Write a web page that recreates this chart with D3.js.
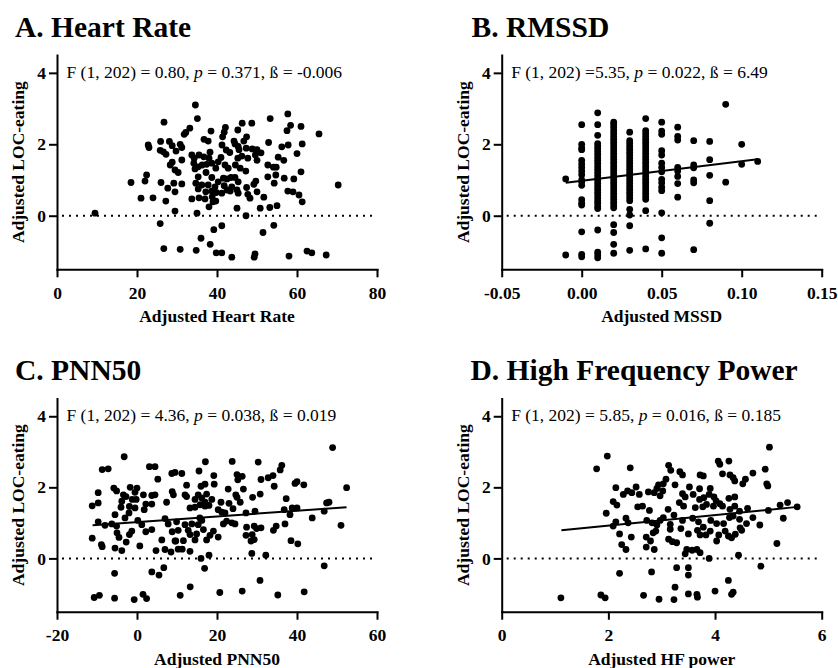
<!DOCTYPE html>
<html><head><meta charset="utf-8">
<script src="https://cdn.jsdelivr.net/npm/d3@7/dist/d3.min.js"></script>
<style>
body{margin:0;background:#fff}
svg{display:block}
text{font-family:"Liberation Serif","Times New Roman",Times,serif;fill:#000}
</style>
</head><body>
<svg id="chart" width="838" height="668"></svg>
<script>
// ---------------- DATA ----------------
const heartRatePoints = [[34.6,3.10],[57.7,2.85],[35.1,2.72],[53.3,2.72],[26.75,2.62],[48.7,2.59],[46.3,2.59],[58.4,2.53],[61,2.50],[42.1,2.47],[45.2,2.40],[33.2,2.45],[38.5,2.37],[57.5,2.38],[41.8,2.34],[32.2,2.33],[65.5,2.29],[31.8,2.28],[41.4,2.21],[47.4,2.21],[36.75,2.14],[37.8,2.09],[44.25,2.09],[46.7,2.09],[25.9,2.08],[28.1,2.08],[61.3,2.01],[22.8,1.98],[30.8,2.0],[52.9,2.05],[23,1.91],[41.25,1.98],[44.5,2.01],[45.3,1.94],[28.8,1.96],[31.2,1.91],[57.8,1.98],[56.2,1.93],[25.8,1.83],[26.6,1.79],[29.75,1.81],[42.3,1.84],[45.5,1.85],[47.3,1.89],[48.8,1.87],[50,1.85],[51,1.76],[60,1.74],[27.25,1.72],[43.2,1.77],[49.6,1.70],[33.7,1.70],[34.3,1.61],[35.5,1.70],[36.7,1.65],[38.25,1.78],[38,1.61],[38.7,1.47],[40.3,1.51],[31.2,1.56],[28.8,1.50],[28.3,1.42],[41,1.63],[42,1.42],[45.2,1.61],[44.6,1.42],[46.2,1.67],[47.7,1.61],[50,1.55],[55.3,1.64],[56.7,1.55],[52.7,1.42],[54.8,1.36],[54.1,1.36],[34.2,1.47],[35.3,1.37],[36.3,1.42],[37.4,1.44],[39.7,1.33],[34.5,1.31],[29.5,1.28],[30.3,1.21],[37.25,1.21],[42.8,1.33],[45.8,1.33],[47.2,1.25],[61,1.23],[22.4,1.14],[22,0.97],[18.5,0.93],[26,0.93],[29.2,0.91],[31.2,0.89],[35.3,1.09],[34.7,0.91],[38.7,1.07],[41.6,1.05],[42.5,1.03],[43.5,1.07],[44.5,1.07],[45.3,0.95],[52.7,1.09],[54.7,1.14],[54.3,0.91],[56.8,1.05],[59.2,1.03],[49.7,0.97],[49.2,0.88],[70.3,0.86],[36.2,0.86],[37.8,0.86],[39.5,0.81],[40.3,0.95],[41.8,0.84],[43.7,0.81],[45,0.72],[47.4,0.79],[27.7,0.77],[29.5,0.67],[35.3,0.75],[37.2,0.67],[38.7,0.69],[39.8,0.65],[41.2,0.63],[42.5,0.72],[43.3,0.69],[50,0.67],[57.7,0.69],[59,0.67],[60.5,0.58],[61.3,0.39],[21,0.49],[24,0.50],[27.2,0.41],[33.7,0.47],[35.5,0.50],[37,0.47],[38.8,0.53],[39.7,0.41],[45.3,0.63],[48.25,0.49],[47.7,0.60],[51.7,0.52],[38,0.25],[39,0.39],[45,0.21],[50.8,0.21],[53.2,0.23],[55,0.28],[29.5,0.13],[35,0.07],[9.5,0.07],[47.25,0.00],[25.8,-0.22],[41.2,-0.28],[39.2,-0.39],[51.5,-0.47],[54.2,-0.27],[36,-0.63],[38.3,-0.80],[26.7,-0.92],[30.8,-0.94],[34.8,-0.97],[39.8,-1.04],[41.2,-1.04],[43.7,-1.16],[49.5,-1.07],[49.3,-1.16],[58,-1.13],[62.5,-0.99],[63.7,-1.04],[67.3,-1.10]];

// RMSSD values fall on discrete columns: [x, [y values]]
const rmssdColumns = [
  [-0.01, [1.03, -1.10]],
  [0.00, [2.55, 2.0, 1.9, 1.85, 1.55, 1.45, 1.35, 1.25, 1.15, 1.0, 0.95, 0.85, 0.45, 0.35, 0.3, -0.45, -1.08, -1.15]],
  [0.01, [2.88, 2.55, 2.25, 2.02, 1.95, 1.88, 1.8, 1.72, 1.63, 1.55, 1.47, 1.38, 1.3, 1.22, 1.13, 1.05, 0.98, 0.9, 0.82, 0.74, 0.66, 0.58, 0.5, 0.42, 0.35, 0.26, 0.2, -0.4, -1.02, -1.1, -1.18]],
  [0.02, [2.62, 2.55, 2.47, 2.38, 2.3, 2.22, 2.14, 2.06, 1.98, 1.9, 1.82, 1.74, 1.66, 1.58, 1.5, 1.42, 1.34, 1.26, 1.18, 1.1, 1.02, 0.94, 0.86, 0.78, 0.7, 0.62, 0.54, 0.46, 0.38, 0.3, 0.22, -0.25, -0.47, -0.8, -1.05]],
  [0.03, [2.34, 2.1, 2.02, 1.94, 1.86, 1.78, 1.7, 1.62, 1.54, 1.46, 1.38, 1.3, 1.22, 1.14, 1.06, 0.98, 0.9, 0.82, 0.74, 0.66, 0.58, 0.5, 0.42, 0.18, 0.02, -0.28, -0.97]],
  [0.04, [2.72, 2.38, 2.3, 2.22, 2.14, 2.06, 1.98, 1.9, 1.82, 1.74, 1.66, 1.58, 1.5, 1.42, 1.34, 1.26, 1.18, 1.1, 1.02, 0.94, 0.86, 0.78, 0.7, 0.62, 0.54, 0.46, 0.14, -0.93]],
  [0.05, [2.62, 2.37, 2.28, 1.82, 1.7, 1.47, 1.35, 1.23, 1.02, 0.92, 0.8, 0.7, 0.08, -0.62, -1.05]],
  [0.06, [2.48, 2.22, 2.12, 1.35, 1.25, 1.1, 0.9, 0.52]],
  [0.07, [2.1, 1.42, 1.34, 1.0, 0.92, -0.95]],
  [0.08, [2.08, 1.57, 1.13, 0.42, -0.21]],
  [0.09, [3.12, 0.94]],
  [0.10, [2.0, 1.44]],
  [0.11, [1.52]]
];

const pnn50Points = [[48.9,3.12],[-3.2,2.86],[-8.7,2.50],[-7.2,2.52],[3.1,2.58],[4.5,2.58],[17.1,2.72],[23.8,2.73],[30.3,2.71],[36.2,2.62],[35.8,2.49],[8.7,2.39],[9.5,2.42],[11.2,2.39],[5.2,2.23],[15.5,2.46],[19.2,2.33],[25,2.36],[25.2,2.21],[26.3,2.31],[31,2.22],[32.8,2.27],[34,2.33],[39.5,2.11],[40,2.16],[41.7,2.07],[52.4,1.99],[12.4,2.06],[16,2.03],[17,2.09],[19.3,2.09],[22.8,1.95],[26.6,1.95],[34.3,2.03],[-5.8,1.98],[-5.1,1.90],[-1.7,2.0],[0,1.98],[-9.7,1.85],[-3.4,1.79],[-2.75,1.74],[-0.5,1.86],[1.6,1.79],[3.7,1.77],[4.5,1.79],[8.8,1.88],[9.1,1.79],[12,1.79],[12.4,1.74],[15.3,1.79],[17.4,1.81],[24.7,1.79],[25,1.72],[28.9,1.72],[30.8,1.81],[37.3,1.68],[-1.2,1.66],[-0.2,1.66],[2.2,1.53],[3.7,1.53],[7.4,1.58],[14.5,1.66],[16.2,1.70],[17,1.58],[18.7,1.66],[21,1.58],[23,1.55],[25.8,1.58],[47.4,1.56],[48,1.58],[-11.2,1.48],[-9.7,1.56],[-3.8,1.61],[-4,1.44],[-1.9,1.46],[-0.5,1.42],[1.8,1.37],[13.25,1.42],[14.5,1.44],[15.8,1.51],[17,1.47],[18,1.49],[20.3,1.37],[21.2,1.30],[22,1.28],[24,1.40],[27.25,1.28],[29.5,1.33],[36.8,1.37],[38.8,1.42],[40,1.42],[38.25,1.23],[46.8,1.33],[-5.5,1.23],[-3,1.14],[-2,1.28],[0.2,1.07],[-9.7,1.03],[-8,0.93],[-6.3,0.97],[-5.1,0.91],[1.2,0.95],[7,1.12],[7.8,0.97],[9.9,1.03],[12,0.95],[13.7,0.97],[15.7,1.14],[16.2,1.07],[15.3,0.95],[21.6,0.97],[22.4,1.05],[23.7,1.00],[24.5,0.97],[27.4,0.88],[29.3,0.91],[29.9,0.84],[31,0.86],[34.8,0.91],[34.1,0.79],[37,0.97],[43.8,1.14],[51,0.93],[-5,0.72],[-4.5,0.59],[-1.3,0.77],[-1.9,0.67],[2.2,0.75],[3.7,0.81],[6.2,0.52],[8.8,0.75],[9.5,0.49],[10.3,0.79],[11.6,0.50],[12.8,0.79],[13.25,0.67],[14.9,0.69],[14.5,0.52],[16.6,0.81],[17.4,0.52],[18.25,0.65],[19.1,0.77],[20.3,0.60],[27.25,0.65],[28.8,0.67],[28.5,0.49],[29.3,0.53],[38.5,0.50],[40.2,0.41],[-11.2,0.57],[-8.9,0.39],[-8.7,0.33],[-5.5,0.29],[-3.8,0.22],[-2.7,0.46],[0.7,0.35],[4.75,0.22],[7,0.25],[8.5,0.18],[9.7,0.49],[10.3,0.26],[11.3,0.26],[13.25,0.20],[28.7,0.14],[32.2,0.09],[18,0.09],[16,0.0],[16.9,-0.28],[3.7,-0.38],[5.5,-0.47],[6.7,-0.26],[-5.6,-0.42],[46.8,-0.21],[30.75,-0.62],[13.3,-0.80],[20.7,-0.96],[26.3,-0.92],[35.2,-1.03],[41.8,-0.94],[-10.7,-1.10],[-9.4,-1.04],[-5.6,-1.12],[-0.7,-1.16],[1.5,-1.01],[2.4,-1.13],[10.8,-1.04]];

const hfPowerPoints = [[5.02,3.13],[1.98,2.88],[1.78,2.52],[2.41,2.55],[3.13,2.62],[3.17,2.48],[3.34,2.44],[3.39,2.35],[3.72,2.35],[3.78,2.32],[4.06,2.74],[4.09,2.65],[4.26,2.74],[4.14,2.38],[4.28,2.35],[4.34,2.27],[4.37,2.18],[4.71,2.40],[4.57,2.23],[4.52,2.10],[4.94,2.51],[4.97,2.10],[4.99,2.04],[3.08,2.23],[3.03,2.10],[2.94,2.07],[2.91,1.97],[2.86,1.85],[3.02,1.90],[2.97,1.76],[2.14,1.99],[2.52,2.01],[2.36,1.90],[2.28,1.80],[2.44,1.85],[2.58,1.80],[2.75,1.87],[3.25,2.07],[3.52,2.01],[3.71,1.96],[3.91,1.97],[3.39,1.82],[3.44,1.73],[3.59,1.80],[3.71,1.66],[3.79,1.71],[3.89,1.80],[3.98,1.73],[4.02,1.62],[4.09,1.54],[4.26,1.69],[4.37,1.73],[2.09,1.60],[2.16,1.50],[1.96,1.27],[2.55,1.45],[2.64,1.47],[2.77,1.35],[3.12,1.38],[3.33,1.57],[3.41,1.47],[3.63,1.43],[3.77,1.45],[3.84,1.52],[3.97,1.47],[4.14,1.47],[4.28,1.38],[4.37,1.47],[4.46,1.33],[4.61,1.41],[5.22,1.50],[5.36,1.57],[5.54,1.45],[5.00,1.35],[3.23,1.22],[3.03,1.15],[2.97,1.07],[2.82,1.00],[2.72,1.07],[2.33,1.13],[2.14,1.03],[2.09,0.91],[2.37,1.00],[2.91,0.94],[3.16,0.96],[3.39,1.07],[3.58,1.13],[3.69,1.03],[3.78,0.88],[3.92,1.07],[4.03,0.98],[4.16,0.98],[4.27,1.15],[4.34,1.19],[4.46,1.10],[4.59,0.98],[4.71,1.15],[4.84,0.94],[5.28,1.13],[2.21,0.69],[2.43,0.60],[2.71,0.60],[2.84,0.72],[2.89,0.77],[3.16,0.82],[3.36,0.84],[3.5,0.69],[3.67,0.79],[3.72,0.66],[3.83,0.66],[3.91,0.77],[4.07,0.66],[4.03,0.49],[4.19,0.77],[4.31,0.58],[4.38,0.68],[4.47,0.86],[4.5,0.79],[2.25,0.39],[2.33,0.25],[2.71,0.32],[2.79,0.49],[2.86,0.25],[3.13,0.54],[3.2,0.47],[3.28,0.44],[3.44,0.13],[3.47,0.25],[3.57,0.23],[3.66,0.25],[3.72,0.16],[4.25,0.63],[4.44,0.09],[5.16,0.42],[3.89,0.0],[3.28,-0.26],[3.5,-0.26],[3.5,-0.47],[2.81,-0.38],[2.21,-0.42],[4.86,-0.22],[4.25,-0.62],[3.25,-0.81],[1.11,-1.11],[1.86,-1.03],[1.94,-1.11],[2.66,-1.04],[2.95,-1.15],[3.23,-1.16],[3.5,-1.0],[3.66,-1.01],[3.67,-1.09],[4.0,-0.92],[4.31,-1.01],[4.34,-0.95]];

// Fitted regression lines (end points in data units)
const rmssdFit = [[-0.01, 0.925], [0.11, 1.58]];
const pnn50Fit = [[-11.1, 0.93], [52.4, 1.44]];
const hfPowerFit = [[1.12, 0.79], [5.55, 1.45]];

// Axis tick values and labels
const yTickValues = [0, 2, 4];
const yDomain = [-1.5, 4.5];
const hrTicks = [0, 20, 40, 60, 80];
const rmssdTicks = [-0.05, 0, 0.05, 0.10, 0.15];
const pnn50Ticks = [-20, 0, 20, 40, 60];
const hfTicks = [0, 2, 4, 6];

const panelTitles = ["A. Heart Rate", "B. RMSSD", "C. PNN50", "D. High Frequency Power"];
const xAxisTitles = ["Adjusted Heart Rate", "Adjusted MSSD", "Adjusted PNN50", "Adjusted HF power"];
const yAxisTitle = "Adjusted LOC-eating";
const statTexts = [
  ["F (1, 202) = 0.80, ", "p", " = 0.371, ß = -0.006"],
  ["F (1, 202) =5.35, ", "p", " = 0.022, ß = 6.49"],
  ["F (1, 202) = 4.36, ", "p", " = 0.038, ß = 0.019"],
  ["F (1, 202) = 5.85, ", "p", " = 0.016, ß = 0.185"]
];

const rmssdPoints = rmssdColumns.flatMap(([x, ys]) => ys.map(y => [x, y]));

// ---------------- LAYOUT ----------------
const svg = d3.select("#chart");
svg.append("rect").attr("width", 838).attr("height", 668).attr("fill", "#fff");

const fmtHyphen = f => v => f(v).replace("\u2212", "-");
const panels = [
  {pts: heartRatePoints, fit: null, xDom: [0, 80], ticks: hrTicks, fmt: fmtHyphen(d3.format("d")),
   left: 57, right: 377, top: 55, bottom: 269.3, titleX: 15, titleY: 37},
  {pts: rmssdPoints, fit: rmssdFit, xDom: [-0.05, 0.15], ticks: rmssdTicks, fmt: fmtHyphen(d3.format(".2f")),
   left: 501.7, right: 821.7, top: 55, bottom: 269.3, titleX: 471.5, titleY: 37},
  {pts: pnn50Points, fit: pnn50Fit, xDom: [-20, 60], ticks: pnn50Ticks, fmt: fmtHyphen(d3.format("d")),
   left: 57, right: 377, top: 398.5, bottom: 611.7, titleX: 15, titleY: 380},
  {pts: hfPowerPoints, fit: hfPowerFit, xDom: [0, 6], ticks: hfTicks, fmt: fmtHyphen(d3.format("d")),
   left: 501.7, right: 821.7, top: 398.5, bottom: 611.7, titleX: 470.5, titleY: 380}
];

panels.forEach((p, i) => {
  const x = d3.scaleLinear().domain(p.xDom).range([p.left, p.right]);
  const y = d3.scaleLinear().domain(yDomain).range([p.bottom, p.top]);
  const g = svg.append("g");

  // title
  g.append("text").attr("x", p.titleX).attr("y", p.titleY)
    .attr("font-size", 29.5).attr("font-weight", "bold").text(panelTitles[i]);

  // dotted zero line
  g.append("line")
    .attr("x1", p.left + 5).attr("x2", p.right - 5)
    .attr("y1", y(0)).attr("y2", y(0))
    .attr("stroke", "#000").attr("stroke-width", 2)
    .attr("stroke-dasharray", "2,5");

  // points
  g.append("g").selectAll("circle").data(p.pts).join("circle")
    .attr("cx", d => x(d[0])).attr("cy", d => y(d[1])).attr("r", 3.4).attr("fill", "#000");

  // fit line
  if (p.fit) {
    g.append("path").attr("d", d3.line().x(d => x(d[0])).y(d => y(d[1]))(p.fit))
      .attr("stroke", "#000").attr("stroke-width", 2).attr("fill", "none");
  }

  // axes
  const xa = g.append("g").attr("transform", `translate(0,${p.bottom})`)
    .call(d3.axisBottom(x).tickValues(p.ticks).tickFormat(p.fmt).tickSize(8).tickSizeOuter(0).tickPadding(9));
  const ya = g.append("g").attr("transform", `translate(${p.left},0)`)
    .call(d3.axisLeft(y).tickValues(yTickValues).tickFormat(d3.format("d")).tickSize(8).tickSizeOuter(0).tickPadding(3));
  [xa, ya].forEach(a => {
    a.select(".domain").attr("stroke", "#000").attr("stroke-width", 2).attr("stroke-linecap", "square");
    a.selectAll(".tick line").attr("stroke", "#000").attr("stroke-width", 2);
    a.selectAll(".tick text").attr("font-size", 17.5).attr("font-weight", "bold")
      .attr("font-family", '"Liberation Serif","Times New Roman",serif').attr("fill", "#000");
  });

  // axis titles
  g.append("text").attr("x", (p.left + p.right) / 2).attr("y", p.bottom + 53)
    .attr("text-anchor", "middle").attr("font-size", 17.5).attr("font-weight", "bold")
    .text(xAxisTitles[i]);
  g.append("text")
    .attr("transform", `translate(${p.left - 33},${(p.top + p.bottom) / 2}) rotate(-90)`)
    .attr("text-anchor", "middle").attr("font-size", 17.5).attr("font-weight", "bold")
    .text(yAxisTitle);

  // statistics annotation
  const t = g.append("text").attr("x", p.left + 9.5).attr("y", p.top + 22.5).attr("font-size", 17.5);
  t.append("tspan").text(statTexts[i][0]);
  t.append("tspan").attr("font-style", "italic").text(statTexts[i][1]);
  t.append("tspan").text(statTexts[i][2]);
});
</script>
</body></html>
